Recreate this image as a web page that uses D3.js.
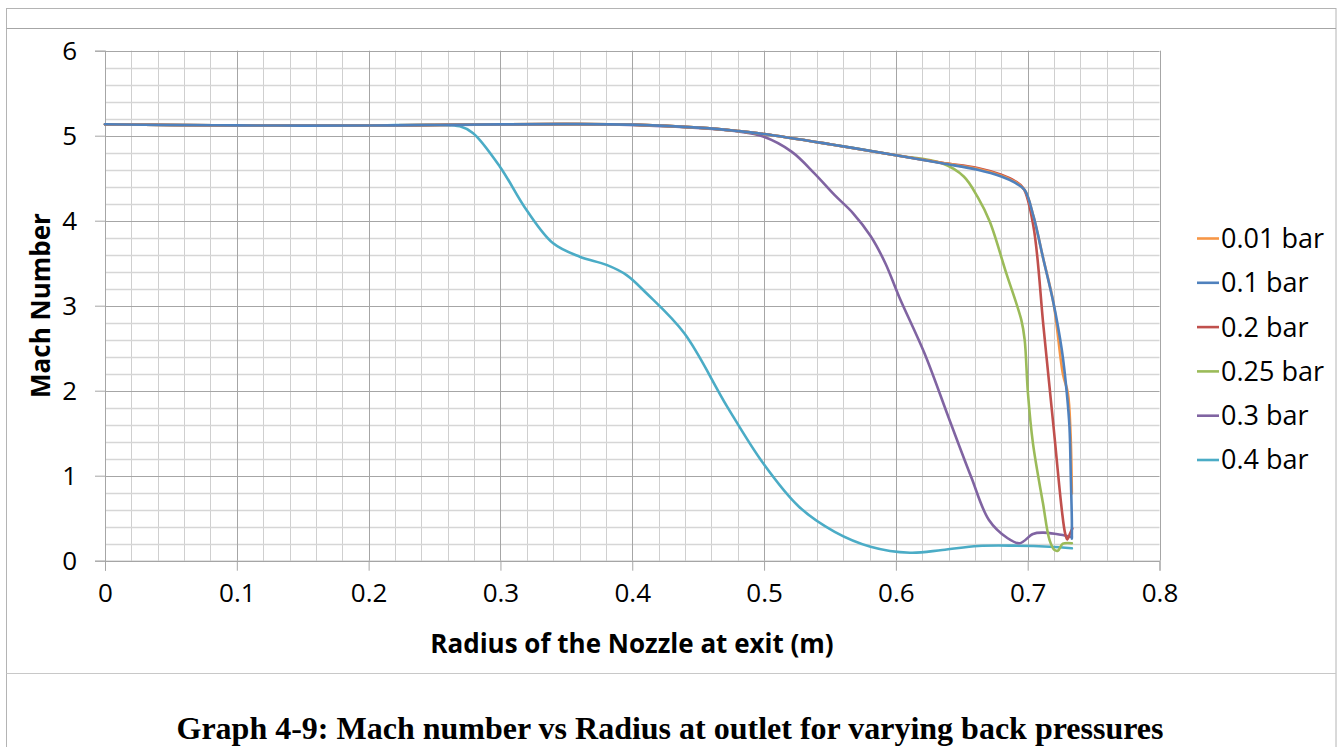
<!DOCTYPE html>
<html>
<head>
<meta charset="utf-8">
<script src="https://cdn.jsdelivr.net/npm/d3@7"></script>
<style>
  html, body { margin: 0; padding: 0; background: #fff; }
  svg { display: block; }
</style>
</head>
<body>
<svg id="chart" width="1337" height="747"></svg>
<script>
// ---------- DATA ----------
const seriesNames = ["0.01 bar", "0.1 bar", "0.2 bar", "0.25 bar", "0.3 bar", "0.4 bar"];
const seriesColors = ["#F79646", "#4F81BD", "#C0504D", "#9BBB59", "#8064A2", "#4BACC6"];

const xTicks = [0, 0.1, 0.2, 0.3, 0.4, 0.5, 0.6, 0.7, 0.8];
const yTicks = [0, 1, 2, 3, 4, 5, 6];
const xTickLabels = ["0", "0.1", "0.2", "0.3", "0.4", "0.5", "0.6", "0.7", "0.8"];
const yTickLabels = ["0", "1", "2", "3", "4", "5", "6"];

// [radius (m), Mach number]
const bar001 = [[0,5.135],[0.05,5.126],[0.1,5.122],[0.15,5.118],[0.2,5.12],[0.25,5.126],[0.3,5.133],[0.35,5.136],[0.4,5.13],[0.45,5.095],[0.48,5.055],[0.5,5.02],[0.55,4.9],[0.6,4.77],[0.635,4.68],[0.662,4.61],[0.68,4.53],[0.69,4.46],[0.6977,4.36],[0.7044,4.05],[0.712,3.54],[0.7196,3.03],[0.7267,2.2],[0.7305,1.97],[0.7325,1.5],[0.7335,0.79]];
const bar01  = [[0,5.135],[0.05,5.126],[0.1,5.122],[0.15,5.118],[0.2,5.12],[0.25,5.126],[0.3,5.133],[0.35,5.136],[0.4,5.13],[0.45,5.095],[0.48,5.055],[0.5,5.02],[0.55,4.9],[0.6,4.77],[0.635,4.675],[0.662,4.6],[0.68,4.52],[0.69,4.45],[0.6977,4.36],[0.7044,4.05],[0.712,3.54],[0.7196,3.03],[0.7259,2.48],[0.7297,1.97],[0.7317,1.576],[0.7327,0.99],[0.7335,0.48],[0.7335,0.26]];
const bar02  = [[0,5.135],[0.05,5.126],[0.1,5.122],[0.15,5.118],[0.2,5.12],[0.25,5.126],[0.3,5.133],[0.35,5.136],[0.4,5.13],[0.45,5.095],[0.48,5.055],[0.5,5.02],[0.55,4.9],[0.6,4.77],[0.635,4.68],[0.662,4.62],[0.68,4.54],[0.69,4.47],[0.6968,4.38],[0.7044,3.93],[0.712,2.75],[0.7196,1.576],[0.7259,0.596],[0.7284,0.322],[0.730,0.25],[0.7321,0.32],[0.7339,0.38]];
const bar025 = [[0,5.135],[0.05,5.126],[0.1,5.122],[0.15,5.118],[0.2,5.12],[0.25,5.126],[0.3,5.133],[0.35,5.136],[0.4,5.13],[0.45,5.095],[0.48,5.055],[0.5,5.02],[0.55,4.9],[0.6,4.77],[0.635,4.675],[0.6515,4.52],[0.662,4.28],[0.6712,3.99],[0.6838,3.38],[0.6952,2.83],[0.6977,2.6],[0.7002,1.97],[0.704,1.38],[0.7116,0.675],[0.7166,0.243],[0.7204,0.126],[0.7229,0.118],[0.7267,0.2],[0.7335,0.205]];
const bar03  = [[0,5.135],[0.05,5.126],[0.1,5.122],[0.15,5.118],[0.2,5.12],[0.25,5.126],[0.3,5.133],[0.35,5.137],[0.39,5.13],[0.44,5.1],[0.4803,5.05],[0.4993,4.99],[0.5211,4.81],[0.538,4.56],[0.5536,4.3],[0.5674,4.09],[0.5808,3.82],[0.592,3.5],[0.6026,3.1],[0.6217,2.44],[0.6407,1.655],[0.657,0.99],[0.6706,0.479],[0.6843,0.27],[0.6939,0.205],[0.704,0.315],[0.7116,0.33],[0.7217,0.314],[0.7335,0.28]];
const bar04  = [[0,5.135],[0.05,5.126],[0.1,5.122],[0.15,5.118],[0.2,5.12],[0.254,5.126],[0.2692,5.11],[0.2793,5.03],[0.2996,4.636],[0.3198,4.126],[0.34,3.734],[0.3602,3.576],[0.3805,3.48],[0.3957,3.36],[0.4108,3.146],[0.4395,2.675],[0.4721,1.81],[0.4993,1.146],[0.5265,0.635],[0.5536,0.34],[0.5808,0.165],[0.6107,0.094],[0.6352,0.126],[0.6624,0.173],[0.6896,0.177],[0.7168,0.165],[0.7335,0.146]];

const seriesData = [bar001, bar01, bar02, bar025, bar03, bar04];

// ---------- LAYOUT ----------
const svg = d3.select("#chart");
const plot = { left: 105, right: 1159.5, top: 50.7, bottom: 560.7 };
const x = d3.scaleLinear().domain([0, 0.8]).range([plot.left, plot.right]);
const y = d3.scaleLinear().domain([0, 6]).range([plot.bottom, plot.top]);
const FONT = "'Open Sans', 'Noto Sans', sans-serif";

// frames
svg.append("rect").attr("x", 6.5).attr("y", 8.5).attr("width", 1329.5).attr("height", 745)
  .attr("fill", "none").attr("stroke", "#b4b4b4").attr("stroke-width", 1);
svg.append("line").attr("x1", 6.5).attr("x2", 1336).attr("y1", 28.5).attr("y2", 28.5)
  .attr("stroke", "#a6a6a6");
svg.append("line").attr("x1", 6.5).attr("x2", 1336).attr("y1", 673.5).attr("y2", 673.5)
  .attr("stroke", "#c8c8c8");

// grid
const grid = svg.append("g");
const minorX = d3.range(0, 0.8001, 0.02).filter(v => Math.abs(v * 10 - Math.round(v * 10)) > 1e-6);
const minorY = d3.range(0, 6.001, 0.2).filter(v => Math.abs(v - Math.round(v)) > 1e-6);
grid.selectAll(".mx").data(minorX).join("line")
  .attr("x1", d => Math.round(x(d)) + 0.5).attr("x2", d => Math.round(x(d)) + 0.5)
  .attr("y1", plot.top).attr("y2", plot.bottom).attr("stroke", "#cfcfcf");
grid.selectAll(".my").data(minorY).join("line")
  .attr("x1", plot.left).attr("x2", plot.right)
  .attr("y1", d => Math.round(y(d)) + 0.5).attr("y2", d => Math.round(y(d)) + 0.5)
  .attr("stroke", "#d6d6d6").attr("stroke-width", 1.3);
grid.selectAll(".Mx").data(xTicks).join("line")
  .attr("x1", d => Math.round(x(d)) + 0.5).attr("x2", d => Math.round(x(d)) + 0.5)
  .attr("y1", plot.top).attr("y2", plot.bottom).attr("stroke", "#a6a6a6");
grid.selectAll(".My").data(yTicks).join("line")
  .attr("x1", plot.left).attr("x2", plot.right)
  .attr("y1", d => Math.round(y(d)) + 0.5).attr("y2", d => Math.round(y(d)) + 0.5)
  .attr("stroke", "#a6a6a6");

// axes
const xAxis = d3.axisBottom(x).tickValues(xTicks).tickSize(10).tickPadding(13)
  .tickFormat((d, i) => xTickLabels[i]);
const yAxis = d3.axisLeft(y).tickValues(yTicks).tickSize(10).tickPadding(18)
  .tickFormat((d, i) => yTickLabels[i]);

const gx = svg.append("g").attr("transform", `translate(0,${plot.bottom})`).call(xAxis);
const gy = svg.append("g").attr("transform", `translate(${plot.left},0)`).call(yAxis);
[gx, gy].forEach(g => {
  g.select(".domain").attr("stroke", "#a6a6a6");
  g.selectAll(".tick line").attr("stroke", "#a6a6a6");
  g.selectAll(".tick text").attr("fill", "#000").style("font-family", FONT).style("font-size", "26px");
});

// lines
const line = d3.line().x(d => x(d[0])).y(d => y(d[1])).curve(d3.curveCatmullRom.alpha(0.5));
const order = [5, 4, 3, 2, 0, 1]; // draw order
svg.append("g").selectAll("path").data(order).join("path")
  .attr("d", i => line(seriesData[i]))
  .attr("fill", "none")
  .attr("stroke", i => seriesColors[i])
  .attr("stroke-width", 2.6)
  .attr("stroke-linejoin", "round")
  .attr("stroke-linecap", "round");

// axis titles
svg.append("text").attr("x", 632).attr("y", 653)
  .attr("text-anchor", "middle").style("font-family", FONT).style("font-weight", "bold")
  .style("font-size", "26px").text("Radius of the Nozzle at exit (m)");
svg.append("text").attr("transform", "translate(50,305.5) rotate(-90)")
  .attr("text-anchor", "middle").style("font-family", FONT).style("font-weight", "bold")
  .style("font-size", "26px").text("Mach Number");

// legend
const legend = svg.append("g").attr("transform", "translate(1197,238.5)");
const rows = legend.selectAll("g").data(seriesNames).join("g")
  .attr("transform", (d, i) => `translate(0,${i * 44.3})`);
rows.append("line").attr("x1", 0).attr("x2", 22).attr("y1", 0).attr("y2", 0)
  .attr("stroke", (d, i) => seriesColors[i]).attr("stroke-width", 2.6);
rows.append("text").attr("x", 24).attr("y", 0).attr("dy", "0.35em")
  .style("font-family", FONT).style("font-size", "27px").attr("fill", "#000").text(d => d);

// caption
svg.append("text").attr("x", 670).attr("y", 739).attr("text-anchor", "middle")
  .style("font-family", "'Liberation Serif', 'Times New Roman', serif").style("font-weight", "bold")
  .style("font-size", "32px").text("Graph 4-9: Mach number vs Radius at outlet for varying back pressures");
</script>
</body>
</html>
